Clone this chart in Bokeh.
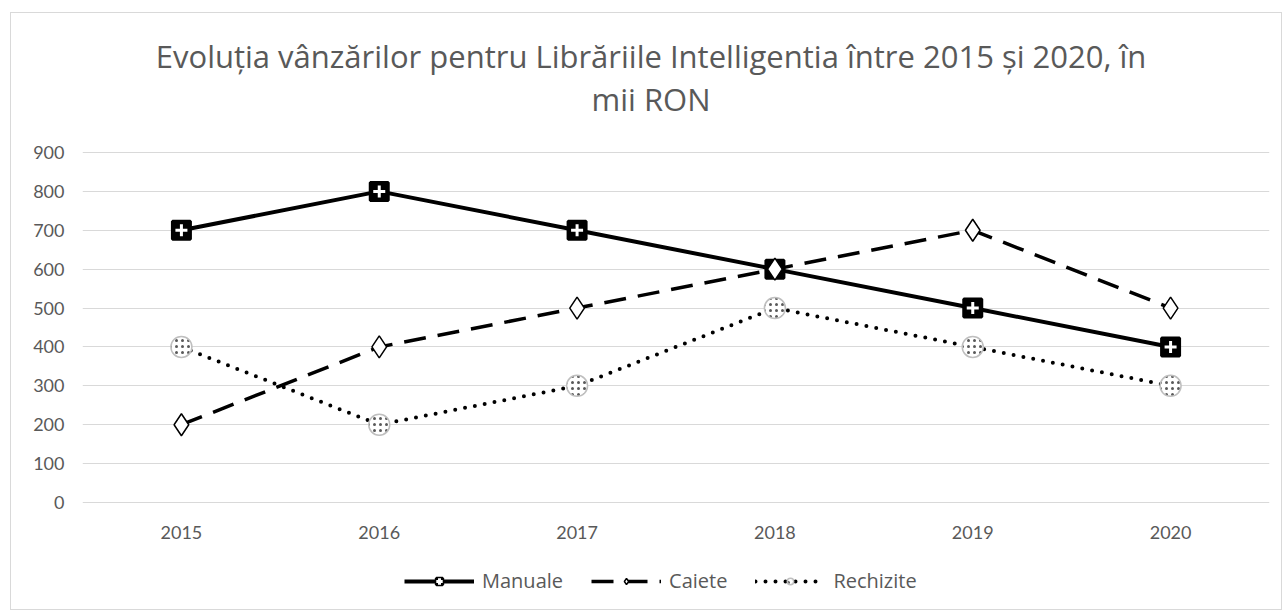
from bokeh.plotting import figure
from bokeh.models import Legend, LegendItem, Label, Range1d, FixedTicker
from bokeh.embed import file_html
from bokeh.resources import INLINE

years = [2015, 2016, 2017, 2018, 2019, 2020]
manuale = [700, 800, 700, 600, 500, 400]
caiete = [200, 400, 500, 600, 700, 500]
rechizite = [400, 200, 300, 500, 400, 300]
y_ticks = [0, 100, 200, 300, 400, 500, 600, 700, 800, 900]
title_lines = ["Evoluția vânzărilor pentru Librăriile Intelligentia între 2015 și 2020, în", "mii RON"]

FONT = "Lato"
TFONT = "Open Sans"
GRAY = "#595959"

# the frame covers the full canvas height; value axis shows 0..900
p = figure(width=1272, height=598, output_backend="svg", toolbar_location=None,
           x_range=Range1d(2014.5, 2020.5), y_range=Range1d(-280.3, 1257.4),
           min_border_left=71, min_border_right=14, min_border_top=0, min_border_bottom=0,
           styles={"border": "1px solid #d9d9d9", "margin-left": "10px", "margin-top": "12px"})
p.outline_line_color = None
p.xgrid.grid_line_color = None
p.ygrid.grid_line_color = "#d9d9d9"
p.ygrid.grid_line_width = 1
p.xaxis.ticker = FixedTicker(ticks=years)
p.yaxis.ticker = FixedTicker(ticks=y_ticks)
p.xaxis.fixed_location = 0
for ax in (p.xaxis[0], p.yaxis[0]):
    ax.axis_line_color = None
    ax.major_tick_line_color = None
    ax.minor_tick_line_color = None
    ax.major_label_text_color = GRAY
    ax.major_label_text_font = FONT
    ax.major_label_text_font_size = "18px"
p.xaxis.major_label_standoff = 18
p.yaxis.major_label_standoff = 12

r1l = p.line(years, manuale, line_color="black", line_width=4)
r1m = p.scatter(years, manuale, marker="square", size=18, fill_color="black", line_color="black",
                line_width=3)
r1c = p.scatter(years, manuale, marker="cross", size=12, line_color="white", line_width=3)
r2l = p.line(years, caiete, line_color="black", line_width=3.5, line_dash="22 12")
r2m = p.scatter(years, caiete, marker="diamond", size=22, fill_color="white", line_color="black",
                line_width=1.5)
r3l = p.line(years, rechizite, line_color="black", line_width=4, line_dash="0 10", line_cap="round")
r3m = p.scatter(years, rechizite, marker="circle", size=21, fill_color="white", line_color="#bfbfbf",
                line_width=1.5, hatch_pattern="dot", hatch_scale=6, hatch_color="#595959", hatch_weight=1)

for t, yv in zip(title_lines, [1149.0, 1037.0]):
    p.add_layout(Label(x=2017.374, y=yv, text=t, text_align="center", text_baseline="middle",
                       text_font=TFONT, text_font_size="31px", text_color=GRAY))

legend = Legend(items=[LegendItem(label="Manuale", renderers=[r1l, r1m, r1c]),
                       LegendItem(label="Caiete", renderers=[r2l, r2m]),
                       LegendItem(label="Rechizite", renderers=[r3l, r3m])],
                orientation="horizontal", location=(322, 17),
                glyph_width=70, glyph_height=16, label_text_font=TFONT, label_text_font_size="20px",
                label_text_color=GRAY, spacing=28, label_standoff=8,
                background_fill_alpha=0, border_line_color=None, padding=0, margin=0)
p.add_layout(legend)

open("out.html", "w").write(file_html(p, INLINE))
